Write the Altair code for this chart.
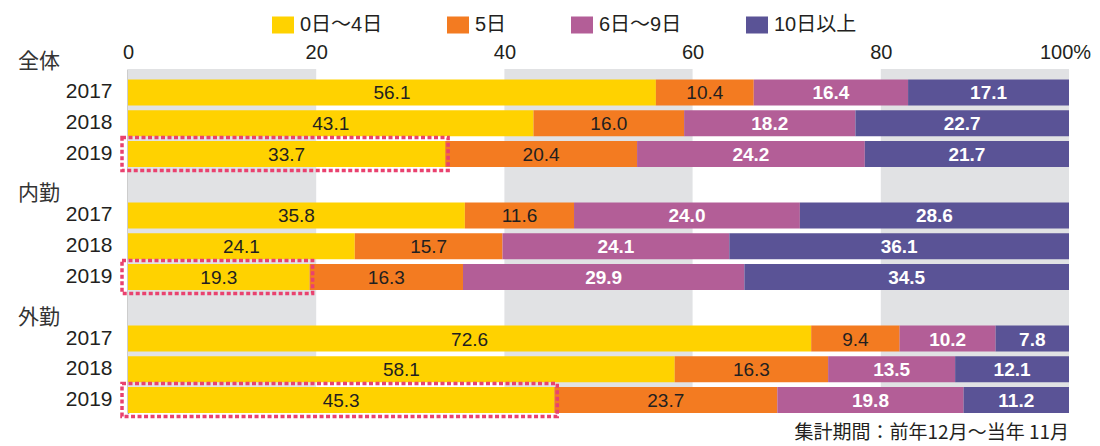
import altair as alt
import pandas as pd

# ---- data ----
groups = ["全体", "内勤", "外勤"]
years = ["2017", "2018", "2019"]
series = ["0日〜4日", "5日", "6日〜9日", "10日以上"]
colors = ["#FFD200", "#F37B21", "#B35E97", "#5A5396"]

zentai = [[56.1, 10.4, 16.4, 17.1], [43.1, 16.0, 18.2, 22.7], [33.7, 20.4, 24.2, 21.7]]
naikin = [[35.8, 11.6, 24.0, 28.6], [24.1, 15.7, 24.1, 36.1], [19.3, 16.3, 29.9, 34.5]]
gaikin = [[72.6, 9.4, 10.2, 7.8], [58.1, 16.3, 13.5, 12.1], [45.3, 23.7, 19.8, 11.2]]
group_values = [zentai, naikin, gaikin]

band_start = [0, 40, 80]
band_end = [20, 60, 100]
x_ticks = [0, 20, 40, 60, 80, 100]
footnote = "集計期間：前年12月〜当年 11月"

# ---- tables ----
records = []
row_domain = []
for gi, g in enumerate(groups):
    if gi > 0:
        row_domain.append(f"gap{gi}")
    for yi, y in enumerate(years):
        row = f"{g}|{y}"
        row_domain.append(row)
        for si, s in enumerate(series):
            records.append({"row": row, "group": g, "year": y, "series": s,
                            "order": si, "value": group_values[gi][yi][si]})
df = pd.DataFrame(records)
band_df = pd.DataFrame({"start": band_start, "end": band_end})
group_df = pd.DataFrame({"group": groups, "row": [f"{g}|{years[0]}" for g in groups]})

W, H = 941, 344
FONT = "Liberation Sans, Noto Sans CJK JP, sans-serif"
CJK = "Noto Sans CJK JP, sans-serif"
DARK = "#231F20"

x_scale = alt.Scale(domain=[0, 100], nice=False, zero=True)
y_scale = alt.Scale(domain=row_domain, paddingInner=0.156, paddingOuter=0.17, align=1)

x_axis = alt.Axis(orient="top", values=x_ticks, title=None, ticks=False, domain=False,
                  grid=False, labelFontSize=20, labelPadding=7, labelColor=DARK,
                  labelFont=FONT, labelFlush=False, labelOverlap=False,
                  labelOffset={"condition": {"test": "datum.value == 100", "value": -4},
                               "value": 0},
                  labelExpr="datum.value == 100 ? '100%' : datum.value")

bands = alt.Chart(band_df).mark_rect(color="#E1E2E4").encode(
    x=alt.X("start:Q", scale=x_scale, axis=x_axis),
    x2="end:Q",
)

base = alt.Chart(df).transform_stack(
    stack="value", as_=["x0", "x1"], groupby=["row"], sort=[alt.SortField("order")]
).transform_calculate(mid="(datum.x0 + datum.x1) / 2")

bars = base.mark_bar().encode(
    x=alt.X("x0:Q", scale=x_scale, axis=x_axis),
    x2="x1:Q",
    y=alt.Y("row:N", scale=y_scale,
            axis=alt.Axis(title=None, ticks=False, domain=True, domainColor="#3A3A3A",
                          domainWidth=1.5, grid=False, labelFontSize=21, labelPadding=16,
                          labelColor=DARK, labelFont=FONT,
                          labelExpr="indexof(datum.value, '|') > 0 ? substring(datum.value, indexof(datum.value, '|') + 1) : ''")),
    color=alt.Color("series:N", scale=alt.Scale(domain=series, range=colors),
                    legend=alt.Legend(title=None, orient="none", legendX=144, legendY=-55,
                                      direction="horizontal",
                                      symbolType="M-1,-0.773L1,-0.773L1,0.773L-1,0.773Z",
                                      symbolSize=484, symbolStrokeWidth=0, symbolOpacity=1,
                                      labelFontSize=20, labelColor=DARK, labelFont=FONT,
                                      labelOffset=6, columnPadding=64, labelLimit=300)),
)

text_dark = base.transform_filter("datum.order < 2").mark_text(
    fontSize=19, color=DARK, font=FONT, baseline="middle", align="center", dy=1
).encode(
    x=alt.X("mid:Q", scale=x_scale),
    y=alt.Y("row:N", scale=y_scale),
    text=alt.Text("value:Q", format=".1f"),
)

text_light = base.transform_filter("datum.order >= 2").mark_text(
    fontSize=19, color="white", fontWeight="bold", font=FONT, baseline="middle",
    align="center", dy=1
).encode(
    x=alt.X("mid:Q", scale=x_scale),
    y=alt.Y("row:N", scale=y_scale),
    text=alt.Text("value:Q", format=".1f"),
)

highlight = base.transform_filter("datum.year == '2019' && datum.order == 0").mark_bar(
    fill="transparent", stroke="#E9426F", strokeWidth=3.5, strokeDash=[4, 2.5],
    size=33, xOffset=-6, x2Offset=3
).encode(
    x=alt.X("x0:Q", scale=x_scale),
    x2="x1:Q",
    y=alt.Y("row:N", scale=y_scale),
)

group_layers = []
for g, off in zip(groups, [-30, -21, -21]):
    group_layers.append(
        alt.Chart(group_df).transform_filter(alt.datum.group == g).mark_text(
            fontSize=21, color="#333333", font=CJK, align="left", baseline="middle", yOffset=off
        ).encode(
            x=alt.value(-110),
            y=alt.Y("row:N", scale=y_scale),
            text="group:N",
        )
    )

chart = alt.layer(bands, bars, text_dark, text_light, highlight, *group_layers).properties(
    width=W, height=H,
    autosize=alt.AutoSizeParams(type="none"),
    padding={"left": 120, "top": 61, "right": 23, "bottom": 33},
    title=alt.TitleParams(footnote, orient="bottom", anchor="end", frame="group",
                          fontSize=19, fontWeight="normal", color=DARK, font=CJK, offset=6),
).configure_view(stroke="transparent")

chart.save("out.html", embed_options={"renderer": "svg", "actions": False})
